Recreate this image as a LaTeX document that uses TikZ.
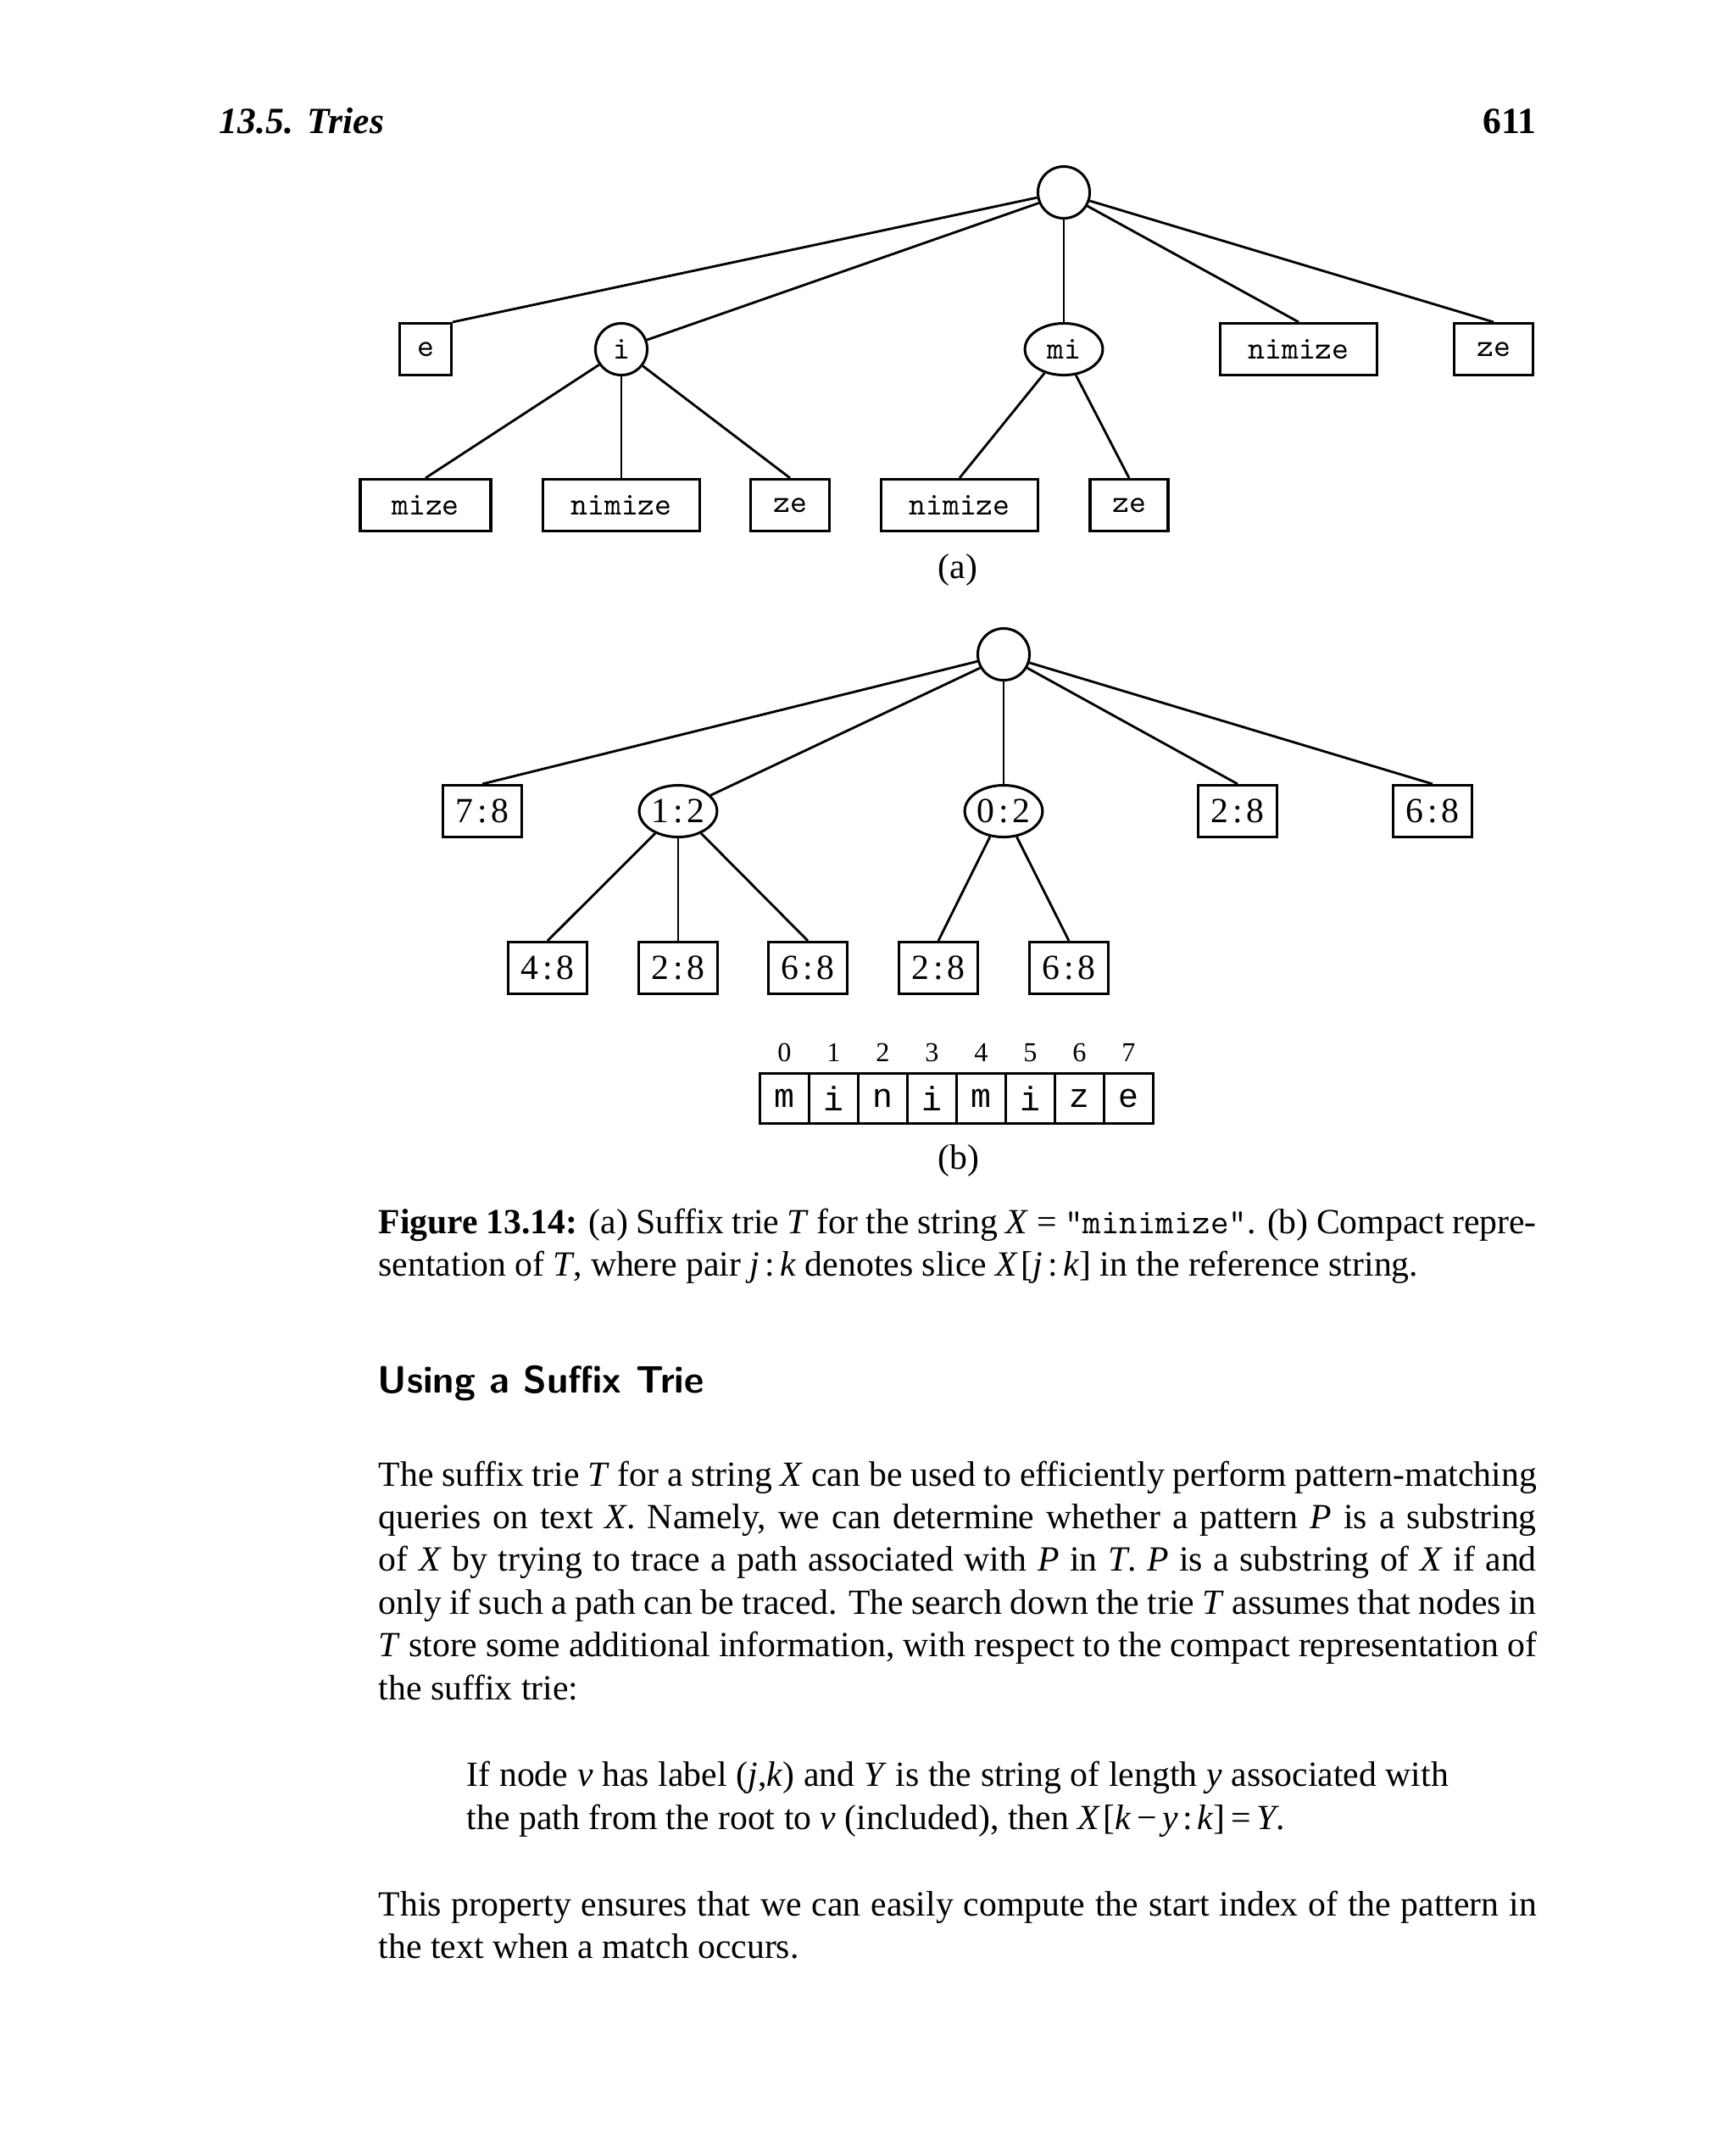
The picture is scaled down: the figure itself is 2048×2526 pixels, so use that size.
\documentclass[tikz,border=0pt]{standalone}
\usepackage{fontspec}
\setmainfont{Liberation Serif}
\newfontfamily\couriermono{Liberation Mono}
\usetikzlibrary{shapes.geometric}
\newcommand{\ital}[1]{\textit{#1}}
\newcommand{\pr}[2]{#1\kern0.12em:\kern0.12em#2}
\begin{document}
\begin{tikzpicture}[x=0.26367pt,y=-0.26367pt,
  ln/.style={line width=0.75pt},
  trbox/.style={draw,rectangle,line width=0.8pt,inner sep=0pt,minimum height=16.1pt},
  abox/.style={trbox,font=\ttfamily\fontsize{10}{12}\selectfont},
  bbox/.style={trbox,font=\fontsize{11}{12}\selectfont,minimum width=24.3pt},
  rootc/.style={draw,circle,line width=0.8pt,inner sep=0pt,minimum size=16.1pt},
  ell/.style={draw,ellipse,line width=0.8pt,inner sep=0pt,minimum height=16.1pt,minimum width=24.2pt},
  cellbox/.style={draw,rectangle,line width=0.8pt,inner sep=0pt,minimum width=15.29pt,minimum height=15.6pt,font=\couriermono\fontsize{10.5}{13}\selectfont},
  idx/.style={inner sep=0pt,anchor=base,font=\fontsize{8.5}{10}\selectfont},
  txt/.style={inner sep=0pt,anchor=base west,font=\fontsize{11}{13}\selectfont},
]
\useasboundingbox (0,0) rectangle (2048,2526);
\fill[white] (0,0) rectangle (2048,2526);

% header
\node[inner sep=0pt,anchor=base west,font=\bfseries\itshape\fontsize{11.5}{14}\selectfont] (hl) at (258,157) {13.5.\hspace{0.38em}Tries};
\node[inner sep=0pt,anchor=base east,font=\bfseries\fontsize{11.5}{14}\selectfont] (hr) at (1813,157) {611};

% tree (a)
\node[rootc] (ra) at (1255,227) {};
\node[abox,minimum width=16.1pt] (ae) at (502,412) {e};
\node[rootc,font=\ttfamily\fontsize{10}{12}\selectfont] (ai) at (733,412) {i};
\node[ell,font=\ttfamily\fontsize{10}{12}\selectfont] (ami) at (1255,412) {mi};
\node[abox,minimum width=48.78pt] (anim) at (1532,412) {nimize};
\node[abox,minimum width=24.5pt] (aze) at (1762,412) {ze};
\node[abox,minimum width=40.6pt] (amize) at (502,596) {mize};
\node[abox,minimum width=48.78pt] (anim1) at (733,596) {nimize};
\node[abox,minimum width=24.5pt] (aze1) at (932,596) {ze};
\node[abox,minimum width=48.78pt] (anim2) at (1132,596) {nimize};
\node[abox,minimum width=24.26pt] (aze2) at (1332,596) {ze};
\draw[ln] (ra.191) -- (ae.north east);
\draw[ln] (ra.203) -- (ai.20);
\draw[ln] (ra.south) -- (ami.north);
\draw[ln] (ra.330) -- (anim.north);
\draw[ln] (ra.342) -- (aze.north);
\draw[ln] (ai.215) -- (amize.north);
\draw[ln] (ai.south) -- (anim1.north);
\draw[ln] (ai.322) -- (aze1.north);
\draw[ln] (ami.231) -- (anim2.north);
\draw[ln] (ami.295) -- (aze2.north);
\node[inner sep=0pt,anchor=base,font=\fontsize{11}{13}\selectfont] (la) at (1130,682) {(a)};

% tree (b)
\node[rootc] (rb) at (1184,772) {};
\node[bbox] (b78) at (569,957) {\pr{7}{8}};
\node[ell,font=\fontsize{11}{12}\selectfont] (b12) at (800,957) {\pr{1}{2}};
\node[ell,font=\fontsize{11}{12}\selectfont] (b02) at (1184,957) {\pr{0}{2}};
\node[bbox] (b28r) at (1460,957) {\pr{2}{8}};
\node[bbox] (b68r) at (1690,957) {\pr{6}{8}};
\node[bbox] (b48) at (646,1142) {\pr{4}{8}};
\node[bbox] (b28a) at (800,1142) {\pr{2}{8}};
\node[bbox] (b68a) at (953,1142) {\pr{6}{8}};
\node[bbox] (b28b) at (1107,1142) {\pr{2}{8}};
\node[bbox] (b68b) at (1261,1142) {\pr{6}{8}};
\draw[ln] (rb.195) -- (b78.north);
\draw[ln] (rb.210) -- (b12.26);
\draw[ln] (rb.south) -- (b02.north);
\draw[ln] (rb.330) -- (b28r.north);
\draw[ln] (rb.342) -- (b68r.north);
\draw[ln] (b12.224) -- (b48.north);
\draw[ln] (b12.south) -- (b28a.north);
\draw[ln] (b12.316) -- (b68a.north);
\draw[ln] (b02.242) -- (b28b.north);
\draw[ln] (b02.297) -- (b68b.north);

% array
\foreach \ch [count=\i from 0] in {m,i,n,i,m,i,z,e} {
  \node[cellbox] (c\i) at ({925.5+58*\i},1296) {\ch};
  \node[idx] (n\i) at ({925.5+58*\i},1252) {\i};
}
\node[inner sep=0pt,anchor=base,font=\fontsize{11}{13}\selectfont] (lb) at (1131,1379) {(b)};

% caption
\node[txt] (cap1) at (446,1455) {\makebox[360.2pt][s]{\textbf{Figure 13.14:} (a) Suffix trie \ital{T} for the string \ital{X} = \texttt{"minimize"}. (b) Compact repre-}};
\node[txt] (cap2) at (446,1505) {sentation of \ital{T}, where pair \ital{j}\kern0.15em:\kern0.15em\ital{k} denotes slice \ital{X}\kern0.08em[\ital{j}\kern0.15em:\kern0.15em\ital{k}] in the reference string.};

% heading
\node[inner sep=0pt,anchor=base west,font=\sffamily\bfseries\fontsize{11.9}{14}\selectfont] (sec) at (445,1643) {Using a Suffix Trie};

% paragraph 1
\node[txt] (p1) at (446,1753) {\makebox[360.2pt][s]{The suffix trie \ital{T} for a string \ital{X} can be used to efficiently perform pattern-matching}};
\node[txt] (p2) at (446,1803.4) {\makebox[360.2pt][s]{queries on text \ital{X}. Namely, we can determine whether a pattern \ital{P} is a substring}};
\node[txt] (p3) at (446,1853.8) {\makebox[360.2pt][s]{of \ital{X} by trying to trace a path associated with \ital{P} in \ital{T}. \ital{P} is a substring of \ital{X} if and}};
\node[txt] (p4) at (446,1904.2) {\makebox[360.2pt][s]{only if such a path can be traced. The search down the trie \ital{T} assumes that nodes in}};
\node[txt] (p5) at (446,1954.6) {\makebox[360.2pt][s]{\ital{T} store some additional information, with respect to the compact representation of}};
\node[txt] (p6) at (446,2005) {the suffix trie:};

% indented
\node[txt] (q1) at (550,2107) {\makebox[305.4pt][s]{If node \ital{v} has label (\ital{j},\ital{k}) and \ital{Y} is the string of length \ital{y} associated with}};
\node[txt] (q2) at (550,2158) {the path from the root to \ital{v} (included), then \ital{X}\kern0.08em[\ital{k}\,−\,\ital{y}\kern0.12em:\kern0.12em\ital{k}]\,=\,\ital{Y}.};

% last paragraph
\node[txt] (r1) at (446,2260) {\makebox[360.2pt][s]{This property ensures that we can easily compute the start index of the pattern in}};
\node[txt] (r2) at (446,2310) {the text when a match occurs.};
\end{tikzpicture}
\end{document}
